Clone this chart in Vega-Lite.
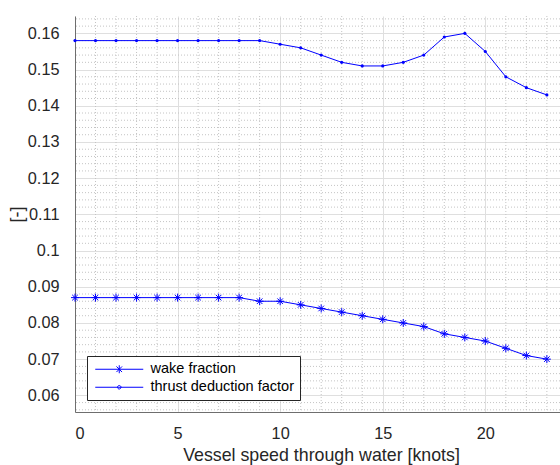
{
  "$schema": "https://vega.github.io/schema/vega-lite/v6.json",
  "width": 485,
  "height": 396,
  "autosize": {"type": "none"},
  "padding": {"left": 75, "top": 16, "right": 0, "bottom": 53},
  "background": "white",
  "config": {
    "view": {"stroke": null},
    "font": "Liberation Sans",
    "axis": {"labelFont": "Liberation Sans", "titleFont": "Liberation Sans", "titleFontWeight": "normal", "labelOverlap": false, "labelFontSize": 16.3, "titleFontSize": 17.8},
    "axisY": {"labelOverlap": false, "tickCount": 11}
  },
  "datasets": {
    "main": [
      {"speed": 0, "series": "wake fraction", "value": 0.087},
      {"speed": 1, "series": "wake fraction", "value": 0.087},
      {"speed": 2, "series": "wake fraction", "value": 0.087},
      {"speed": 3, "series": "wake fraction", "value": 0.087},
      {"speed": 4, "series": "wake fraction", "value": 0.087},
      {"speed": 5, "series": "wake fraction", "value": 0.087},
      {"speed": 6, "series": "wake fraction", "value": 0.087},
      {"speed": 7, "series": "wake fraction", "value": 0.087},
      {"speed": 8, "series": "wake fraction", "value": 0.087},
      {"speed": 9, "series": "wake fraction", "value": 0.086},
      {"speed": 10, "series": "wake fraction", "value": 0.086},
      {"speed": 11, "series": "wake fraction", "value": 0.085},
      {"speed": 12, "series": "wake fraction", "value": 0.084},
      {"speed": 13, "series": "wake fraction", "value": 0.083},
      {"speed": 14, "series": "wake fraction", "value": 0.082},
      {"speed": 15, "series": "wake fraction", "value": 0.081},
      {"speed": 16, "series": "wake fraction", "value": 0.080},
      {"speed": 17, "series": "wake fraction", "value": 0.079},
      {"speed": 18, "series": "wake fraction", "value": 0.077},
      {"speed": 19, "series": "wake fraction", "value": 0.076},
      {"speed": 20, "series": "wake fraction", "value": 0.075},
      {"speed": 21, "series": "wake fraction", "value": 0.073},
      {"speed": 22, "series": "wake fraction", "value": 0.071},
      {"speed": 23, "series": "wake fraction", "value": 0.070},
      {"speed": 0, "series": "thrust deduction factor", "value": 0.158},
      {"speed": 1, "series": "thrust deduction factor", "value": 0.158},
      {"speed": 2, "series": "thrust deduction factor", "value": 0.158},
      {"speed": 3, "series": "thrust deduction factor", "value": 0.158},
      {"speed": 4, "series": "thrust deduction factor", "value": 0.158},
      {"speed": 5, "series": "thrust deduction factor", "value": 0.158},
      {"speed": 6, "series": "thrust deduction factor", "value": 0.158},
      {"speed": 7, "series": "thrust deduction factor", "value": 0.158},
      {"speed": 8, "series": "thrust deduction factor", "value": 0.158},
      {"speed": 9, "series": "thrust deduction factor", "value": 0.158},
      {"speed": 10, "series": "thrust deduction factor", "value": 0.157},
      {"speed": 11, "series": "thrust deduction factor", "value": 0.156},
      {"speed": 12, "series": "thrust deduction factor", "value": 0.154},
      {"speed": 13, "series": "thrust deduction factor", "value": 0.152},
      {"speed": 14, "series": "thrust deduction factor", "value": 0.151},
      {"speed": 15, "series": "thrust deduction factor", "value": 0.151},
      {"speed": 16, "series": "thrust deduction factor", "value": 0.152},
      {"speed": 17, "series": "thrust deduction factor", "value": 0.154},
      {"speed": 18, "series": "thrust deduction factor", "value": 0.159},
      {"speed": 19, "series": "thrust deduction factor", "value": 0.160},
      {"speed": 20, "series": "thrust deduction factor", "value": 0.155},
      {"speed": 21, "series": "thrust deduction factor", "value": 0.148},
      {"speed": 22, "series": "thrust deduction factor", "value": 0.145},
      {"speed": 23, "series": "thrust deduction factor", "value": 0.143}
    ],
    "gx": [
      {"speed": 1}, {"speed": 2}, {"speed": 3}, {"speed": 4},
      {"speed": 6}, {"speed": 7}, {"speed": 8}, {"speed": 9},
      {"speed": 11}, {"speed": 12}, {"speed": 13}, {"speed": 14},
      {"speed": 16}, {"speed": 17}, {"speed": 18}, {"speed": 19},
      {"speed": 21}, {"speed": 22}, {"speed": 23}
    ],
    "gy": [
      {"value": 0.056}, {"value": 0.058}, {"value": 0.062}, {"value": 0.064}, {"value": 0.066}, {"value": 0.068},
      {"value": 0.072}, {"value": 0.074}, {"value": 0.076}, {"value": 0.078},
      {"value": 0.082}, {"value": 0.084}, {"value": 0.086}, {"value": 0.088},
      {"value": 0.092}, {"value": 0.094}, {"value": 0.096}, {"value": 0.098},
      {"value": 0.102}, {"value": 0.104}, {"value": 0.106}, {"value": 0.108},
      {"value": 0.112}, {"value": 0.114}, {"value": 0.116}, {"value": 0.118},
      {"value": 0.122}, {"value": 0.124}, {"value": 0.126}, {"value": 0.128},
      {"value": 0.132}, {"value": 0.134}, {"value": 0.136}, {"value": 0.138},
      {"value": 0.142}, {"value": 0.144}, {"value": 0.146}, {"value": 0.148},
      {"value": 0.152}, {"value": 0.154}, {"value": 0.156}, {"value": 0.158},
      {"value": 0.162}, {"value": 0.164}
    ]
  },
  "layer": [
    {
      "data": {"name": "gx"},
      "mark": {"type": "rule", "stroke": "#c4c4c4", "strokeDash": [1, 2], "strokeWidth": 1},
      "encoding": {
        "x": {
          "field": "speed", "type": "quantitative", "title": "Vessel speed through water [knots]",
          "scale": {"domain": [0, 23.64], "nice": false, "zero": false},
          "axis": {"values": [0, 5, 10, 15, 20], "format": "d", "grid": true, "gridColor": "#dfdfdf", "domainColor": "#6e6e6e", "tickOpacity": 0, "labelColor": "#262626", "labelFontSize": 16.3, "labelOverlap": false, "labelPadding": 8, "titleColor": "#262626", "titleFontSize": 17.8, "titleX": 246, "titleY": 48, "titleBaseline": "alphabetic", "titleAlign": "center"}
        }
      }
    },
    {
      "data": {"name": "gy"},
      "mark": {"type": "rule", "stroke": "#c4c4c4", "strokeDash": [1, 2], "strokeWidth": 1},
      "encoding": {
        "y": {
          "field": "value", "type": "quantitative", "title": "[-]",
          "scale": {"domain": [0.0554, 0.1648], "nice": false, "zero": false},
          "axis": {"values": [0.06, 0.07, 0.08, 0.09, 0.1, 0.11, 0.12, 0.13, 0.14, 0.15, 0.16], "tickCount": 11, "format": "~g", "grid": true, "gridColor": "#dfdfdf", "domainColor": "#6e6e6e", "tickOpacity": 0, "labelColor": "#262626", "labelFontSize": 16.3, "labelOverlap": false, "labelPadding": 11, "titleColor": "#262626", "titleFontSize": 17.8, "titleX": -58, "titleY": 198, "titleAngle": -90, "titleAlign": "center", "titleBaseline": "middle"}
        }
      }
    },
    {
      "data": {"name": "main"},
      "mark": {"type": "line", "stroke": "#0000ff", "strokeWidth": 1},
      "encoding": {
        "x": {
          "field": "speed", "type": "quantitative", "title": "Vessel speed through water [knots]",
          "scale": {"domain": [0, 23.64], "nice": false, "zero": false},
          "axis": {"values": [0, 5, 10, 15, 20], "format": "d", "grid": true, "gridColor": "#dfdfdf", "domainColor": "#6e6e6e", "tickOpacity": 0, "labelColor": "#262626", "labelFontSize": 16.3, "labelOverlap": false, "labelPadding": 8, "titleColor": "#262626", "titleFontSize": 17.8, "titleX": 246, "titleY": 48, "titleBaseline": "alphabetic", "titleAlign": "center"}
        },
        "y": {
          "field": "value", "type": "quantitative", "title": "[-]",
          "scale": {"domain": [0.0554, 0.1648], "nice": false, "zero": false},
          "axis": {"values": [0.06, 0.07, 0.08, 0.09, 0.1, 0.11, 0.12, 0.13, 0.14, 0.15, 0.16], "tickCount": 11, "format": "~g", "grid": true, "gridColor": "#dfdfdf", "domainColor": "#6e6e6e", "tickOpacity": 0, "labelColor": "#262626", "labelFontSize": 16.3, "labelOverlap": false, "labelPadding": 11, "titleColor": "#262626", "titleFontSize": 17.8, "titleX": -58, "titleY": 198, "titleAngle": -90, "titleAlign": "center", "titleBaseline": "middle"}
        },
        "detail": {"field": "series", "type": "nominal"},
        "order": {"field": "speed", "type": "quantitative"}
      }
    },
    {
      "data": {"name": "main"},
      "transform": [{"filter": "datum.series === 'wake fraction'"}],
      "mark": {"type": "point", "shape": "M0,-1V1M-1,0H1M-0.7,-0.7L0.7,0.7M-0.7,0.7L0.7,-0.7", "size": 64, "filled": false, "stroke": "#0000ff", "strokeWidth": 1, "opacity": 1},
      "encoding": {
        "x": {
          "field": "speed", "type": "quantitative", "title": "Vessel speed through water [knots]",
          "scale": {"domain": [0, 23.64], "nice": false, "zero": false},
          "axis": {"values": [0, 5, 10, 15, 20], "format": "d", "grid": true, "gridColor": "#dfdfdf", "domainColor": "#6e6e6e", "tickOpacity": 0, "labelColor": "#262626", "labelFontSize": 16.3, "labelOverlap": false, "labelPadding": 8, "titleColor": "#262626", "titleFontSize": 17.8, "titleX": 246, "titleY": 48, "titleBaseline": "alphabetic", "titleAlign": "center"}
        },
        "y": {
          "field": "value", "type": "quantitative", "title": "[-]",
          "scale": {"domain": [0.0554, 0.1648], "nice": false, "zero": false},
          "axis": {"values": [0.06, 0.07, 0.08, 0.09, 0.1, 0.11, 0.12, 0.13, 0.14, 0.15, 0.16], "tickCount": 11, "format": "~g", "grid": true, "gridColor": "#dfdfdf", "domainColor": "#6e6e6e", "tickOpacity": 0, "labelColor": "#262626", "labelFontSize": 16.3, "labelOverlap": false, "labelPadding": 11, "titleColor": "#262626", "titleFontSize": 17.8, "titleX": -58, "titleY": 198, "titleAngle": -90, "titleAlign": "center", "titleBaseline": "middle"}
        }
      }
    },
    {
      "data": {"name": "main"},
      "transform": [{"filter": "datum.series === 'thrust deduction factor'"}],
      "mark": {"type": "point", "shape": "circle", "size": 10, "filled": true, "fill": "#0000ff", "opacity": 1},
      "encoding": {
        "x": {
          "field": "speed", "type": "quantitative", "title": "Vessel speed through water [knots]",
          "scale": {"domain": [0, 23.64], "nice": false, "zero": false},
          "axis": {"values": [0, 5, 10, 15, 20], "format": "d", "grid": true, "gridColor": "#dfdfdf", "domainColor": "#6e6e6e", "tickOpacity": 0, "labelColor": "#262626", "labelFontSize": 16.3, "labelOverlap": false, "labelPadding": 8, "titleColor": "#262626", "titleFontSize": 17.8, "titleX": 246, "titleY": 48, "titleBaseline": "alphabetic", "titleAlign": "center"}
        },
        "y": {
          "field": "value", "type": "quantitative", "title": "[-]",
          "scale": {"domain": [0.0554, 0.1648], "nice": false, "zero": false},
          "axis": {"values": [0.06, 0.07, 0.08, 0.09, 0.1, 0.11, 0.12, 0.13, 0.14, 0.15, 0.16], "tickCount": 11, "format": "~g", "grid": true, "gridColor": "#dfdfdf", "domainColor": "#6e6e6e", "tickOpacity": 0, "labelColor": "#262626", "labelFontSize": 16.3, "labelOverlap": false, "labelPadding": 11, "titleColor": "#262626", "titleFontSize": 17.8, "titleX": -58, "titleY": 198, "titleAngle": -90, "titleAlign": "center", "titleBaseline": "middle"}
        }
      }
    },
    {
      "data": {"name": "main"},
      "mark": {"type": "point", "filled": false, "opacity": 0},
      "encoding": {
        "x": {
          "field": "speed", "type": "quantitative", "title": "Vessel speed through water [knots]",
          "scale": {"domain": [0, 23.64], "nice": false, "zero": false},
          "axis": {"values": [0, 5, 10, 15, 20], "format": "d", "grid": true, "gridColor": "#dfdfdf", "domainColor": "#6e6e6e", "tickOpacity": 0, "labelColor": "#262626", "labelFontSize": 16.3, "labelOverlap": false, "labelPadding": 8, "titleColor": "#262626", "titleFontSize": 17.8, "titleX": 246, "titleY": 48, "titleBaseline": "alphabetic", "titleAlign": "center"}
        },
        "y": {
          "field": "value", "type": "quantitative", "title": "[-]",
          "scale": {"domain": [0.0554, 0.1648], "nice": false, "zero": false},
          "axis": {"values": [0.06, 0.07, 0.08, 0.09, 0.1, 0.11, 0.12, 0.13, 0.14, 0.15, 0.16], "tickCount": 11, "format": "~g", "grid": true, "gridColor": "#dfdfdf", "domainColor": "#6e6e6e", "tickOpacity": 0, "labelColor": "#262626", "labelFontSize": 16.3, "labelOverlap": false, "labelPadding": 11, "titleColor": "#262626", "titleFontSize": 17.8, "titleX": -58, "titleY": 198, "titleAngle": -90, "titleAlign": "center", "titleBaseline": "middle"}
        },
        "shape": {
          "field": "series", "type": "nominal",
          "scale": {
            "domain": ["wake fraction", "thrust deduction factor"],
            "range": [
              "M-1,0H8.6M3.8,-0.8V0.8M3.24,-0.56L4.36,0.56M3.24,0.56L4.36,-0.56",
              "M-1,0H8.6M3.45,0A0.35,0.35 0 1,0 4.15,0A0.35,0.35 0 1,0 3.45,0Z"
            ]
          },
          "legend": {
            "orient": "none", "legendX": 12, "legendY": 340, "title": null,
            "symbolSize": 100, "symbolStrokeColor": "#0000ff", "symbolFillColor": "#0000ff",
            "symbolStrokeWidth": 1, "symbolOpacity": 1,
            "labelOffset": 43, "labelFont": "Liberation Sans", "labelFontSize": 14.5, "labelColor": "#000000",
            "strokeColor": "#262626", "fillColor": "white", "padding": 6, "rowPadding": 3
          }
        }
      }
    }
  ]
}
